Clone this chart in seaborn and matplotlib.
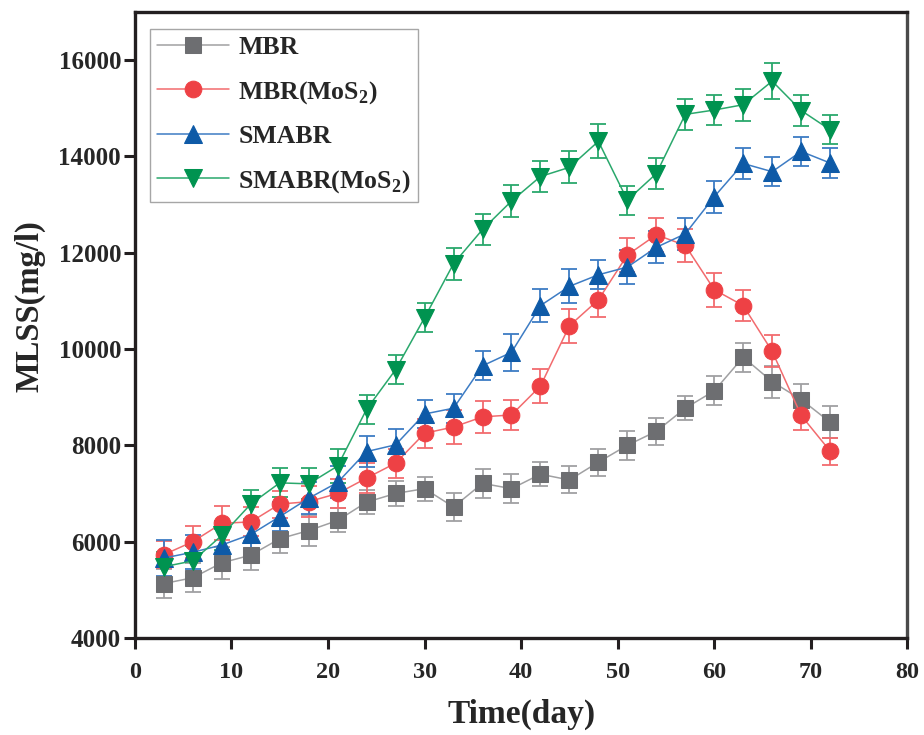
import numpy as np
import pandas as pd
import matplotlib
matplotlib.use("Agg")
import matplotlib.pyplot as plt
import seaborn as sns

days = [3, 6, 9, 12, 15, 18, 21, 24, 27, 30, 33, 36, 39, 42, 45, 48, 51, 54, 57, 60, 63, 66, 69, 72]

mbr = [5130, 5250, 5560, 5720, 6060, 6230, 6440, 6820, 7000, 7100, 6720, 7210,
       7100, 7400, 7280, 7650, 8000, 8290, 8770, 9130, 9830, 9320, 8950, 8480]
mbr_err = [300, 300, 330, 300, 300, 330, 250, 250, 250, 250, 300, 300,
           300, 250, 280, 280, 300, 280, 250, 300, 300, 330, 330, 330]

mbr_mos2 = [5730, 6000, 6380, 6410, 6780, 6830, 7000, 7320, 7630, 8250, 8380, 8590,
            8630, 9230, 10480, 11020, 11950, 12370, 12150, 11230, 10900, 9950, 8620, 7880]
mbr_mos2_err = [280, 330, 350, 300, 280, 320, 300, 320, 300, 300, 350, 330,
                320, 350, 350, 350, 350, 350, 350, 350, 330, 330, 300, 280]

smabr = [5660, 5780, 5930, 6150, 6520, 6900, 7230, 7870, 8010, 8650, 8770, 9650,
         9930, 10900, 11300, 11540, 11700, 12110, 12390, 13160, 13850, 13680, 14100, 13860]
smabr_err = [380, 350, 330, 300, 300, 330, 330, 330, 320, 300, 300, 300,
             380, 350, 350, 300, 350, 330, 330, 330, 330, 300, 300, 320]

smabr_mos2 = [5480, 5600, 6130, 6780, 7220, 7200, 7570, 8750, 9570, 10650, 11770, 12480,
              13070, 13580, 13770, 14310, 13090, 13640, 14870, 14960, 15070, 15560, 14950, 14550]
smabr_mos2_err = [300, 300, 300, 300, 300, 320, 350, 300, 300, 300, 330, 330,
                  330, 330, 330, 350, 300, 320, 320, 320, 330, 380, 330, 300]

labels = ["MBR", r"MBR(MoS$_\mathbf{2}$)", "SMABR", r"SMABR(MoS$_\mathbf{2}$)"]
series = [mbr, mbr_mos2, smabr, smabr_mos2]
errors = [mbr_err, mbr_mos2_err, smabr_err, smabr_mos2_err]
marker_colors = ["#6d6e71", "#ee4145", "#0e5aa7", "#009350"]
line_colors = ["#a0a0a2", "#f26b6e", "#3d7cc4", "#2aa86c"]
markers = ["s", "o", "^", "v"]
msizes = [11, 12, 13, 13]

sns.set_style("ticks")
plt.rcParams["font.family"] = ["Liberation Serif", "DejaVu Serif"]
plt.rcParams["mathtext.fontset"] = "custom"
plt.rcParams["mathtext.rm"] = "Liberation Serif:bold"
plt.rcParams["mathtext.bf"] = "Liberation Serif:bold"

fig = plt.figure(figsize=(9.24, 7.35), dpi=100)
ax = fig.add_axes([0.146, 0.132, 0.836, 0.852])

for lab, y, e, mc, lc, m, ms in zip(labels, series, errors, marker_colors, line_colors, markers, msizes):
    df = pd.DataFrame({"day": days, "mlss": y})
    ax.errorbar(days, y, yerr=e, fmt="none", ecolor=lc, elinewidth=1.3,
                capsize=6, capthick=1.3, zorder=2)
    sns.lineplot(data=df, x="day", y="mlss", ax=ax, color=lc, linewidth=1.1,
                 marker=m, markersize=ms, markerfacecolor=mc, markeredgecolor=mc,
                 label=lab, zorder=3)

ax.set_xlim(0, 80)
ax.set_ylim(4000, 17000)
ax.set_xticks(range(0, 81, 10))
ax.set_yticks(range(4000, 16001, 2000))

for sp in ax.spines.values():
    sp.set_visible(True)
    sp.set_linewidth(2.4)
    sp.set_color("#231f20")
ax.spines["right"].set_color("#4a4a4a")
ax.tick_params(axis="both", direction="out", length=8, width=2.2, color="#231f20")
ax.tick_params(axis="x", labelsize=17.5, pad=9)
ax.tick_params(axis="y", labelsize=18, pad=2)
ax.tick_params(top=False, right=False)
for t in ax.get_xticklabels() + ax.get_yticklabels():
    t.set_fontweight("bold")

ax.set_xlabel("Time(day)", fontsize=24, fontweight="bold", labelpad=12)
ax.set_ylabel("MLSS(mg/l)", fontsize=23.5, fontweight="bold")
ax.yaxis.set_label_coords(-0.116, 0.53)

leg = ax.legend(loc="upper left", bbox_to_anchor=(0.019, 0.973), borderaxespad=0,
                frameon=True, fancybox=False, edgecolor="#909090", handlelength=2.8,
                prop={"weight": "bold", "size": 18.5}, borderpad=0.3,
                labelspacing=0.76, handletextpad=0.35)
leg.get_frame().set_linewidth(1.0)

fig.savefig("out.png", dpi=100)
